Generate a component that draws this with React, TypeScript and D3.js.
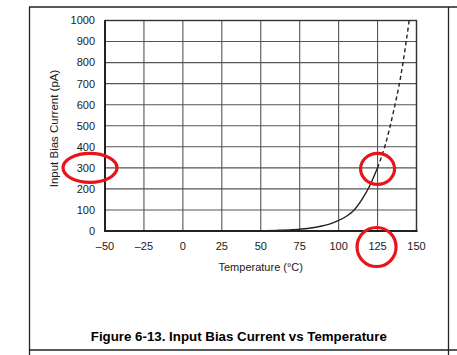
import { useEffect, useRef } from 'react';
import * as d3 from 'd3';

// Measured curve (temperature °C, bias current pA)
const solidTemps = [50, 60, 70, 80, 90, 95, 100, 105, 110, 115, 120, 125];
const solidCurrents = [1, 3, 6, 12, 25, 35, 50, 70, 100, 150, 215, 300];
// Extrapolated part (dashed)
const dashTemps = [125, 130, 135, 140, 145.3];
const dashCurrents = [300, 410, 560, 740, 1000];

const xTicks = [-50, -25, 0, 25, 50, 75, 100, 125, 150];
const yTicks = [0, 100, 200, 300, 400, 500, 600, 700, 800, 900, 1000];

const xTitle = 'Temperature (°C)';
const yTitle = 'Input Bias Current (pA)';
const caption = 'Figure 6-13. Input Bias Current vs Temperature';

// highlighted spots in the reference
const markTemp = 125;
const markCurrent = 300;

const fmt = (v: number) => (v < 0 ? '\u2013' + Math.abs(v) : String(v));

const App = () => {
  const svgRef = useRef<SVGSVGElement>(null);

  useEffect(() => {
    if (!svgRef.current) return;

    const width = 457;
    const height = 355;
    const plot = { left: 105, right: 416.5, top: 20.5, bottom: 231 };
    const font = 'Liberation Sans, Arial, Helvetica, sans-serif';
    const textColor = '#1a1a1a';

    const svg = d3.select(svgRef.current)
      .attr('width', width)
      .attr('height', height);

    svg.selectAll('*').remove();

    // table cell frame
    const frame = svg.append('g').attr('stroke', '#222').attr('stroke-width', 1.3);
    frame.append('line').attr('x1', 29).attr('x2', width).attr('y1', 7).attr('y2', 7);
    frame.append('line').attr('x1', 29).attr('x2', width).attr('y1', 350).attr('y2', 350);
    frame.append('line').attr('x1', 29.5).attr('x2', 29.5).attr('y1', 7).attr('y2', height);
    frame.append('line').attr('x1', 448.5).attr('x2', 448.5).attr('y1', 7).attr('y2', height);

    const x = d3.scaleLinear().domain([-50, 150]).range([plot.left, plot.right]);
    const y = d3.scaleLinear().domain([0, 1000]).range([plot.bottom, plot.top]);

    // Grid
    const grid = svg.append('g').attr('stroke', '#555').attr('stroke-width', 1.1);
    grid.selectAll('line.v')
      .data(xTicks)
      .join('line')
      .attr('class', 'v')
      .attr('x1', d => x(d)).attr('x2', d => x(d))
      .attr('y1', plot.top).attr('y2', plot.bottom);
    grid.selectAll('line.h')
      .data(yTicks)
      .join('line')
      .attr('class', 'h')
      .attr('x1', plot.left).attr('x2', plot.right)
      .attr('y1', d => y(d)).attr('y2', d => y(d));

    // plot border
    svg.append('rect')
      .attr('x', plot.left).attr('y', plot.top)
      .attr('width', plot.right - plot.left).attr('height', plot.bottom - plot.top)
      .attr('fill', 'none').attr('stroke', '#333').attr('stroke-width', 1.4);
    svg.append('line')
      .attr('x1', plot.left - 1).attr('x2', plot.right + 1)
      .attr('y1', plot.bottom).attr('y2', plot.bottom)
      .attr('stroke', '#222').attr('stroke-width', 2.2);
    svg.append('line')
      .attr('x1', plot.left).attr('x2', plot.left)
      .attr('y1', plot.top).attr('y2', plot.bottom)
      .attr('stroke', '#222').attr('stroke-width', 2);

    // Tick labels
    svg.append('g')
      .selectAll('text')
      .data(yTicks)
      .join('text')
      .attr('x', plot.left - 10)
      .attr('y', d => y(d))
      .attr('dy', '0.35em')
      .attr('text-anchor', 'end')
      .attr('font-family', font).attr('font-size', 11).attr('fill', textColor)
      .text(d => fmt(d));

    svg.append('g')
      .selectAll('text')
      .data(xTicks)
      .join('text')
      .attr('x', d => x(d))
      .attr('y', plot.bottom + 15)
      .attr('dy', '0.35em')
      .attr('text-anchor', 'middle')
      .attr('font-family', font).attr('font-size', 11).attr('fill', textColor)
      .text(d => fmt(d));

    // Axis titles
    svg.append('text')
      .attr('x', (plot.left + plot.right) / 2)
      .attr('y', 267)
      .attr('dy', '0.35em')
      .attr('text-anchor', 'middle')
      .attr('font-family', font).attr('font-size', 11).attr('fill', textColor)
      .text(xTitle);

    svg.append('text')
      .attr('transform', `translate(54,128.5) rotate(-90)`)
      .attr('dy', '0.35em')
      .attr('text-anchor', 'middle')
      .attr('font-family', font).attr('font-size', 11.5).attr('fill', textColor)
      .text(yTitle);

    // Curves
    const line = d3.line<[number, number]>()
      .x(d => x(d[0]))
      .y(d => y(d[1]))
      .curve(d3.curveMonotoneX);

    const solid = solidTemps.map((t, i) => [t, solidCurrents[i]] as [number, number]);
    const dashed = dashTemps.map((t, i) => [t, dashCurrents[i]] as [number, number]);

    svg.append('path')
      .datum(solid)
      .attr('fill', 'none')
      .attr('stroke', '#222')
      .attr('stroke-width', 1.4)
      .attr('d', line);

    svg.append('path')
      .datum(dashed)
      .attr('fill', 'none')
      .attr('stroke', '#222')
      .attr('stroke-width', 1.4)
      .attr('stroke-dasharray', '4,3')
      .attr('d', line);

    // Caption
    svg.append('text')
      .attr('x', 238.8)
      .attr('y', 336.5)
      .attr('dy', '0.35em')
      .attr('text-anchor', 'middle')
      .attr('font-family', font).attr('font-size', 13.3).attr('font-weight', 'bold')
      .attr('fill', '#000')
      .text(caption);

    // red highlight ellipses
    const red = svg.append('g').attr('fill', 'none').attr('stroke', '#e8141c').attr('stroke-width', 3.2);
    red.append('ellipse')
      .attr('cx', plot.left - 15).attr('cy', y(markCurrent))
      .attr('rx', 27).attr('ry', 14.5);
    red.append('ellipse')
      .attr('cx', x(markTemp)).attr('cy', y(markCurrent) + 1)
      .attr('rx', 17).attr('ry', 15.5);
    red.append('ellipse')
      .attr('cx', x(markTemp) - 1).attr('cy', plot.bottom + 16)
      .attr('rx', 19.5).attr('ry', 19.5);
  }, []);

  return (
    <svg ref={svgRef} style={{ position: 'absolute', left: 0, top: 0, display: 'block', background: '#fff' }} />
  );
};

export default App;
